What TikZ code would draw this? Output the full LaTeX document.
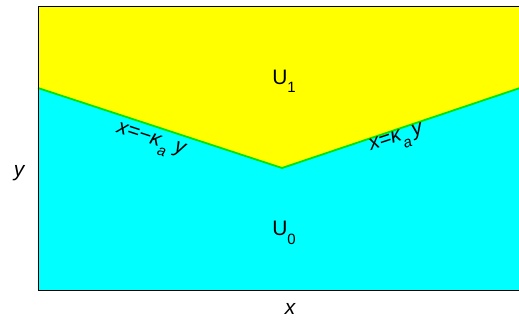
\documentclass[tikz,border=0pt]{standalone}
\usepackage{fontspec}
\setmainfont{Liberation Sans}
\usepackage{tikz}
\usetikzlibrary{calc}
\definecolor{regionup}{RGB}{255,255,0}
\definecolor{regiondown}{RGB}{0,255,255}
\definecolor{seam}{RGB}{0,230,0}
\newcommand{\sbl}[1]{\raisebox{-0.75ex}{\fontsize{15}{16}\selectfont #1}}

\begin{document}
\begin{tikzpicture}[
    x=1bp, y=-1bp,
    txt/.style={inner sep=0pt, font=\fontsize{21}{24}\selectfont},
    slope/.style={inner sep=0pt, font=\fontsize{21}{24}\selectfont\itshape}
]
\useasboundingbox (0,0) rectangle (519,320);
% frame corners and the kink of the boundary
\coordinate (tl) at (38,6);
\coordinate (tr) at (520,6);
\coordinate (br) at (520,290.5);
\coordinate (bl) at (38,290.5);
\coordinate (lft) at (38,88);
\coordinate (kink) at (282,168);
\coordinate (rgt) at (520,88);

\fill[regiondown] (bl) -- (lft) -- (kink) -- (rgt) -- (br) -- cycle;
\fill[regionup] (tl) -- (lft) -- (kink) -- (rgt) -- (tr) -- cycle;
\draw[seam, line width=1.8bp] (lft) -- (kink) -- (rgt);
\draw[black, line width=1bp] (tr) -- (tl) -- (bl) -- (br);

\node[txt] (uone) at (284,81) {U\sbl{1}};
\node[txt] (uzero) at (284,233) {U\sbl{0}};
\node[slope, rotate=-18.2] (leftlbl) at (150,142) {x=−κ\sbl{a}\,\,y};
\node[slope, rotate=18.4] (rightlbl) at (397,141) {x=κ\sbl{a}\,y};
\node[slope] (xlbl) at (290,309) {x};
\node[slope] (ylbl) at (19,173) {y};
\end{tikzpicture}
\end{document}
